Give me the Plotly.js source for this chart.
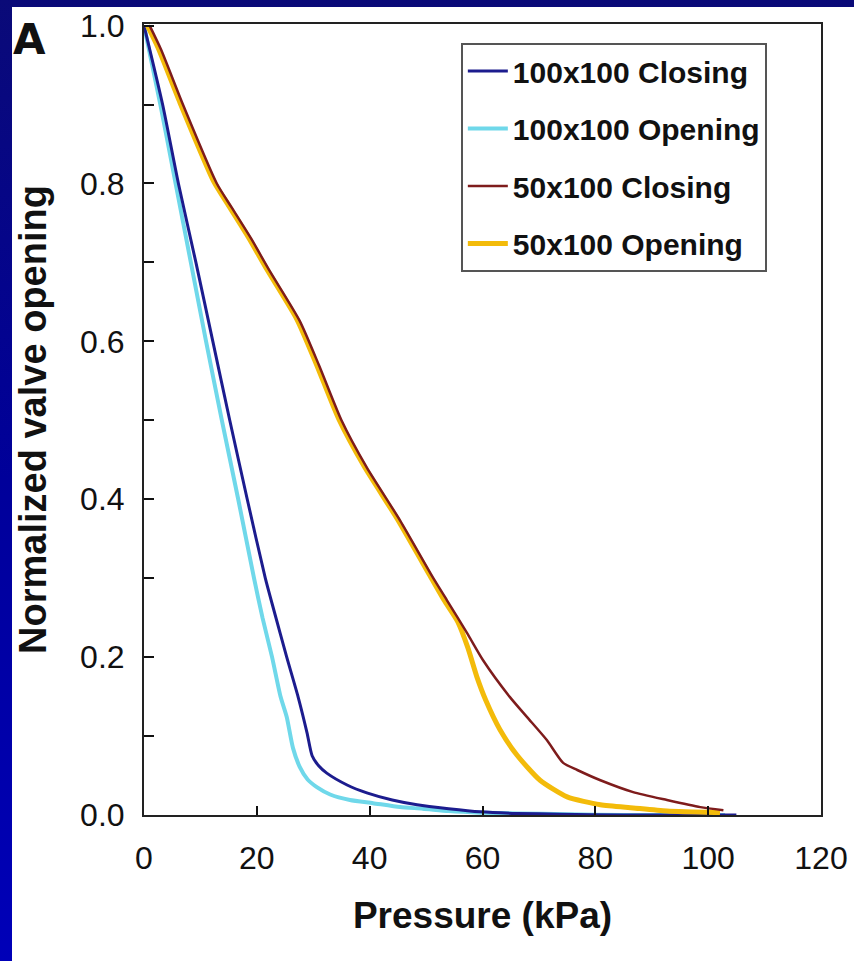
<!DOCTYPE html>
<html><head><meta charset="utf-8">
<script src="https://cdn.plot.ly/plotly-3.0.1.min.js"></script>
<style>
html,body{margin:0;padding:0;width:854px;height:961px;overflow:hidden;background:linear-gradient(to bottom,#0a0a78 0%,#00009a 50%,#0000b8 100%);}
#chart{position:absolute;left:12px;top:7px;width:842px;height:954px;}
</style></head><body><div id="chart"></div>
<script>
// Series names
const seriesNames = ["100x100 Closing", "100x100 Opening", "50x100 Closing", "50x100 Opening"];

// 100x100 Closing (dark blue)
const c100_x = [0, 3.3, 6.1, 9.2, 12.2, 15.2, 18.3, 21.5, 23.0, 25.3, 27.3, 28.9, 29.8, 31.0, 32.4, 36.0, 39.5, 44.0, 48.4, 54.0, 59.6, 66.0, 73.7, 85.0, 95.0, 105.0];
const c100_y = [1.0, 0.9, 0.8, 0.7, 0.6, 0.5, 0.4, 0.3, 0.26, 0.2, 0.15, 0.104, 0.075, 0.062, 0.053, 0.038, 0.028, 0.019, 0.013, 0.008, 0.004, 0.002, 0.001, 0.0, 0.0, 0.0];

// 100x100 Opening (cyan)
const o100_x = [0, 2.9, 5.6, 8.3, 11.0, 13.8, 16.7, 19.5, 21.0, 22.7, 24.2, 25.3, 26.4, 27.6, 29.0, 30.7, 33.0, 36.5, 40.6, 45.4, 49.4, 54.0, 59.6, 66.0, 75.0, 85.0, 95.0, 103.0];
const o100_y = [1.0, 0.9, 0.8, 0.7, 0.6, 0.5, 0.4, 0.3, 0.25, 0.2, 0.15, 0.124, 0.085, 0.061, 0.045, 0.035, 0.026, 0.019, 0.015, 0.010, 0.008, 0.005, 0.003, 0.002, 0.001, 0.0, 0.0, 0.0];

// 50x100 Closing (maroon)
const c50_x = [1.0, 3.0, 6.9, 12.9, 15.5, 19.0, 22.3, 27.6, 31.0, 35.0, 39.5, 45.4, 51.2, 53.7, 57.3, 60.1, 64.9, 67.9, 71.4, 74.3, 76.8, 80.9, 86.7, 92.7, 98.6, 102.7];
const c50_y = [1.0, 0.97, 0.9, 0.8, 0.77, 0.73, 0.689, 0.626, 0.57, 0.5, 0.44, 0.373, 0.301, 0.272, 0.230, 0.196, 0.149, 0.124, 0.095, 0.066, 0.057, 0.044, 0.029, 0.019, 0.010, 0.006];

// 50x100 Opening (yellow)
const o50_x = [0.6, 2.5, 6.4, 12.4, 15.0, 18.5, 21.8, 27.1, 30.5, 34.5, 39.0, 44.9, 50.7, 53.2, 55.6, 57.4, 59.0, 60.6, 63.1, 66.1, 70.2, 75.0, 80.9, 86.7, 92.7, 102.1];
const o50_y = [1.0, 0.972, 0.902, 0.802, 0.772, 0.732, 0.691, 0.628, 0.572, 0.502, 0.442, 0.375, 0.303, 0.272, 0.245, 0.212, 0.175, 0.145, 0.108, 0.076, 0.044, 0.023, 0.013, 0.009, 0.005, 0.003];

// Axis ticks
const xTicks = [0, 20, 40, 60, 80, 100, 120];
const yTicks = [0, 0.2, 0.4, 0.6, 0.8, 1.0];
const yTickText = ["0.0", "0.2", "0.4", "0.6", "0.8", "1.0"];

const FONT = "Liberation Sans, Arial, Helvetica, sans-serif";

const traces = [
  {x: o100_x, y: o100_y, name: seriesNames[1], legendrank: 2, legendgroup: "b", mode: "lines",
   line: {color: "#6fd8ea", width: 4, shape: "spline", smoothing: 0.6}},
  {x: c100_x, y: c100_y, name: seriesNames[0], legendrank: 1, legendgroup: "a", mode: "lines",
   line: {color: "#1c1c8e", width: 3, shape: "spline", smoothing: 0.6}},
  {x: o50_x, y: o50_y, name: seriesNames[3], legendrank: 4, legendgroup: "d", mode: "lines",
   line: {color: "#f3bb0a", width: 5, shape: "spline", smoothing: 0.6}},
  {x: c50_x, y: c50_y, name: seriesNames[2], legendrank: 3, legendgroup: "c", mode: "lines",
   line: {color: "#7e1c1c", width: 2.5, shape: "spline", smoothing: 0.6}}
];

const layout = {
  width: 842, height: 954,
  margin: {l: 132, r: 33, t: 17, b: 146},
  paper_bgcolor: "#ffffff",
  plot_bgcolor: "#ffffff",
  font: {family: FONT, color: "#111"},
  showlegend: true,
  legend: {
    x: 0.468, y: 0.976, xanchor: "left", yanchor: "top",
    bgcolor: "#ffffff", bordercolor: "#555", borderwidth: 2,
    font: {family: FONT, size: 30, weight: "bold", color: "#111"},
    tracegroupgap: 15.5, itemwidth: 40, traceorder: "grouped"
  },
  xaxis: {
    range: [0, 120], tickvals: xTicks, ticks: "inside", ticklen: 9, tickwidth: 2, tickcolor: "#111",
    showline: true, linecolor: "#222", linewidth: 2, mirror: true, showgrid: false, zeroline: false,
    tickfont: {family: FONT, size: 32, color: "#111"}, ticklabelstandoff: 14,
    title: {text: "Pressure (kPa)", font: {family: FONT, size: 37, weight: "bold", color: "#111"}, standoff: 27}
  },
  yaxis: {
    range: [0, 1.002], tickvals: yTicks, ticktext: yTickText, ticks: "inside", ticklen: 10, tickwidth: 2, tickcolor: "#111",
    minor: {dtick: 0.1, tick0: 0, ticks: "inside", ticklen: 10, tickwidth: 2, tickcolor: "#111", showgrid: false},
    showline: true, linecolor: "#222", linewidth: 2, mirror: true, showgrid: false, zeroline: false,
    tickfont: {family: FONT, size: 32, color: "#111"}, ticklabelstandoff: 11,
    title: {text: "Normalized valve opening", font: {family: FONT, size: 38, weight: "bold", color: "#111"}, standoff: 31}
  },
  annotations: [
    {text: "A", xref: "paper", yref: "paper", x: -0.169, y: 0.981, xanchor: "center", yanchor: "middle",
     showarrow: false, font: {family: "DejaVu Sans, Liberation Sans, sans-serif", size: 42, weight: "bold", color: "#111"}}
  ]
};

Plotly.newPlot("chart", traces, layout, {displayModeBar: false, staticPlot: true});
</script>
</body></html>
